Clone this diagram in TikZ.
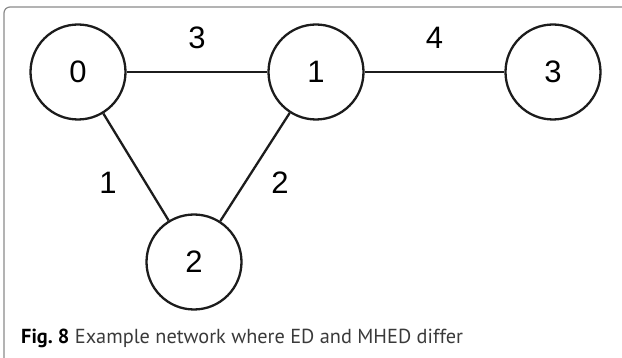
\documentclass[tikz,border=0pt]{standalone}
\usepackage{fontspec}
\setmainfont{Liberation Sans}
\newfontfamily\capfont{PT Sans}
\usepackage{tikz}
\usetikzlibrary{positioning,calc}
\definecolor{framegray}{HTML}{8A8A8A}
\definecolor{inkgray}{HTML}{1C1C1C}
\definecolor{captext}{HTML}{3A3A3A}

\tikzset{
    vertex/.style={circle, draw=inkgray, line width=2.3pt, minimum size=95pt, inner sep=0pt, font=\fontsize{31}{33}\selectfont},
    link/.style={draw=inkgray, line width=2.3pt},
    weight/.style={inner sep=0pt, font=\fontsize{31}{33}\selectfont}
}

\begin{document}
\begin{tikzpicture}[x=1pt, y=-1pt]
    \useasboundingbox (0,0) rectangle (622,358);
    \draw[framegray, line width=1.2pt, rounded corners=6pt] (4,362) -- (4,7) -- (626,7);

    \node[vertex] (v0) at (78,72) {0};
    \node[vertex] (v1) at (316,72) {1};
    \node[vertex] (v3) at (553,72) {3};
    \node[vertex] (v2) at (194,262) {2};

    \draw[link] (v0) -- node[weight, midway, above=22pt] {3} (v1);
    \draw[link] (v1) -- node[weight, midway, above=22pt] {4} (v3);
    \draw[link] (v0) -- node[weight, midway, xshift=-28pt, yshift=-16pt] {1} (v2);
    \draw[link] (v1) -- node[weight, midway, xshift=25pt, yshift=-16pt] {2} (v2);

    \node[anchor=base west, inner sep=0pt, text=captext, font=\capfont\fontsize{20.3}{24}\selectfont] (cap) at (21,344)
        {\textcolor{black}{\bfseries Fig.\ 8} Example network where ED and MHED differ};
\end{tikzpicture}
\end{document}
